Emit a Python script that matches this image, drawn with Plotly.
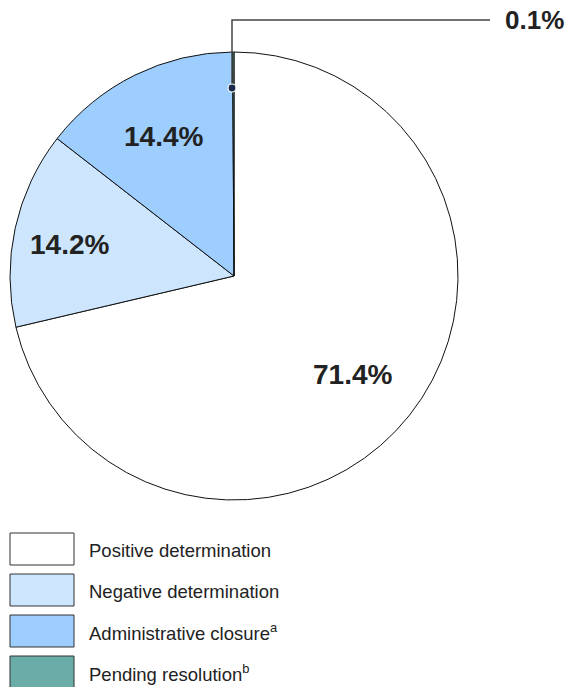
import math
import plotly.graph_objects as go

categories = ["Positive determination", "Negative determination", "Administrative closure", "Pending resolution"]
legend_labels = ["Positive determination", "Negative determination", "Administrative closure<sup>a</sup>", "Pending resolution<sup>b</sup>"]
values = [71.4, 14.2, 14.4, 0.1]
colors = ["#ffffff", "#cde6fd", "#9dcefd", "#6aada8"]

W, H = 570, 687
def px(x):
    return x / W
def py(y):
    return 1 - y / H

# pie geometry (pixels)
CX, CY, R = 234, 276, 224
label_radius = [0.676, 0.753, 0.714, None]

fig = go.Figure()
fig.add_trace(go.Pie(
    labels=categories, values=values,
    textinfo="none",
    sort=False, direction="clockwise", rotation=0,
    marker=dict(colors=colors, line=dict(color="#111111", width=1)),
    domain=dict(x=[px(CX - R), px(CX + R)], y=[py(CY + R), py(CY - R)]),
    showlegend=False, hoverinfo="label+percent",
))

shapes = []
annotations = []

total = sum(values)
cum = 0.0
for v, f in zip(values, label_radius):
    mid = (cum + v / 2) / total * 2 * math.pi
    cum += v
    if f is None:
        continue
    x = CX + R * f * math.sin(mid)
    y = CY - R * f * math.cos(mid) + 4
    annotations.append(dict(x=px(x), y=py(y), xref="paper", yref="paper",
                            text=f"<b>{v}%</b>", showarrow=False,
                            xanchor="center", yanchor="middle",
                            font=dict(family="Liberation Sans, Arial", size=28, color="#222222")))

# leader line for small slice
shapes.append(dict(type="path", xref="paper", yref="paper",
                   path=f"M {px(232)},{py(88)} L {px(232)},{py(20)} L {px(490)},{py(20)}",
                   line=dict(color="#444444", width=1.5)))
shapes.append(dict(type="circle", xref="paper", yref="paper",
                   x0=px(228), x1=px(236), y0=py(92), y1=py(84),
                   fillcolor="#1b2a4a", line=dict(color="#ffffff", width=1.2)))
annotations.append(dict(x=px(503), y=py(20), xref="paper", yref="paper",
                        text=f"<b>{values[3]}%</b>", showarrow=False,
                        xanchor="left", yanchor="middle",
                        font=dict(family="Liberation Sans, Arial", size=26, color="#222222")))

# legend
for i, (lab, col) in enumerate(zip(legend_labels, colors)):
    top = 533 + i * 41
    shapes.append(dict(type="rect", xref="paper", yref="paper",
                       x0=px(10), x1=px(74), y0=py(top + 32), y1=py(top),
                       fillcolor=col, line=dict(color="#333333", width=1)))
    annotations.append(dict(x=px(87), y=py(top + 17), xref="paper", yref="paper",
                            text=lab, showarrow=False, xanchor="left", yanchor="middle",
                            font=dict(family="Liberation Sans, Arial", size=18.5, color="#222222")))

fig.update_layout(
    width=W, height=H, margin=dict(l=0, r=0, t=0, b=0),
    paper_bgcolor="#ffffff", plot_bgcolor="#ffffff",
    shapes=shapes, annotations=annotations,
)
fig.write_html("out.html")
